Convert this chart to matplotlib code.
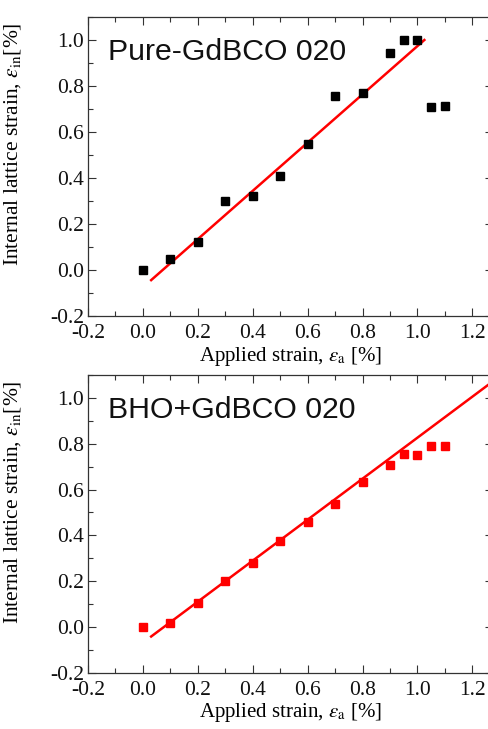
import matplotlib
matplotlib.use("Agg")
import matplotlib.pyplot as plt
from matplotlib.ticker import MultipleLocator

plt.rcParams['font.family'] = ['Liberation Serif', 'DejaVu Serif']
plt.rcParams['mathtext.fontset'] = 'stix'

# applied strain (%) for both samples
x_strain = [0.0, 0.1, 0.2, 0.3, 0.4, 0.5, 0.6, 0.7, 0.8, 0.9, 0.95, 1.0, 1.05, 1.1]

# internal lattice strain (%), pure GdBCO
y_pure = [0.0, 0.05, 0.123, 0.298, 0.322, 0.41, 0.549, 0.755, 0.77, 0.944, 1.0, 1.0, 0.707, 0.712]
# internal lattice strain (%), BHO+GdBCO
y_bho = [0.0, 0.019, 0.103, 0.199, 0.278, 0.373, 0.46, 0.535, 0.632, 0.705, 0.754, 0.752, 0.789, 0.79]

# linear fits (end points)
fit_x_pure = [0.03, 1.025]
fit_y_pure = [-0.044, 1.0]
fit_x_bho = [0.03, 1.3]
fit_y_bho = [-0.042, 1.095]

panels = [
    ("Pure-GdBCO 020", y_pure, fit_x_pure, fit_y_pure, "black",
     [88 / 488, 1 - 316 / 729, 405 / 488, 299 / 729]),
    ("BHO+GdBCO 020", y_bho, fit_x_bho, fit_y_bho, "red",
     [88 / 488, 1 - 672.7 / 729, 405 / 488, 297.7 / 729]),
]

fig = plt.figure(figsize=(4.88, 7.29), dpi=100)

for title, ys, fx, fy, col, pos in panels:
    ax = fig.add_axes(pos)
    ax.plot(fx, fy, color="red", lw=1.8, zorder=2)
    ax.plot(x_strain, ys, ls="none", marker="s", ms=6, color=col, zorder=3)
    ax.set_xlim(-0.2, 1.275)
    ax.set_ylim(-0.2, 1.1)
    ax.xaxis.set_minor_locator(MultipleLocator(0.1))
    ax.yaxis.set_minor_locator(MultipleLocator(0.1))
    ax.set_xticks([-0.2, 0.0, 0.2, 0.4, 0.6, 0.8, 1.0, 1.2])
    ax.set_xticklabels(["-0.2", "0.0", "0.2", "0.4", "0.6", "0.8", "1.0", "1.2"])
    ax.set_yticks([-0.2, 0.0, 0.2, 0.4, 0.6, 0.8, 1.0])
    ax.set_yticklabels(["-0.2", "0.0", "0.2", "0.4", "0.6", "0.8", "1.0"])
    ax.tick_params(which="both", direction="in", top=True, right=True,
                   labelsize=15.5, width=0.8, colors="#333333", labelcolor="#111111")
    ax.tick_params(axis="x", which="major", length=6, pad=6)
    ax.tick_params(axis="y", which="major", length=6, pad=3)
    ax.tick_params(which="minor", length=3.3)
    for s in ax.spines.values():
        s.set_linewidth(0.9)
        s.set_color("#333333")
    ax.set_xlabel(r"Applied strain, $\varepsilon_{\rm a}$ [%]", fontsize=15, labelpad=1)
    ax.set_ylabel(r"Internal lattice strain, $\varepsilon_{\rm in}$[%]", fontsize=15.5)
    ax.yaxis.set_label_coords(-0.16, 0.573)
    ax.text(0.05, 0.883, title, transform=ax.transAxes, fontsize=21.8,
            family="Liberation Sans", va="center", ha="left", color="#111111")

fig.savefig("out.png", dpi=100)
